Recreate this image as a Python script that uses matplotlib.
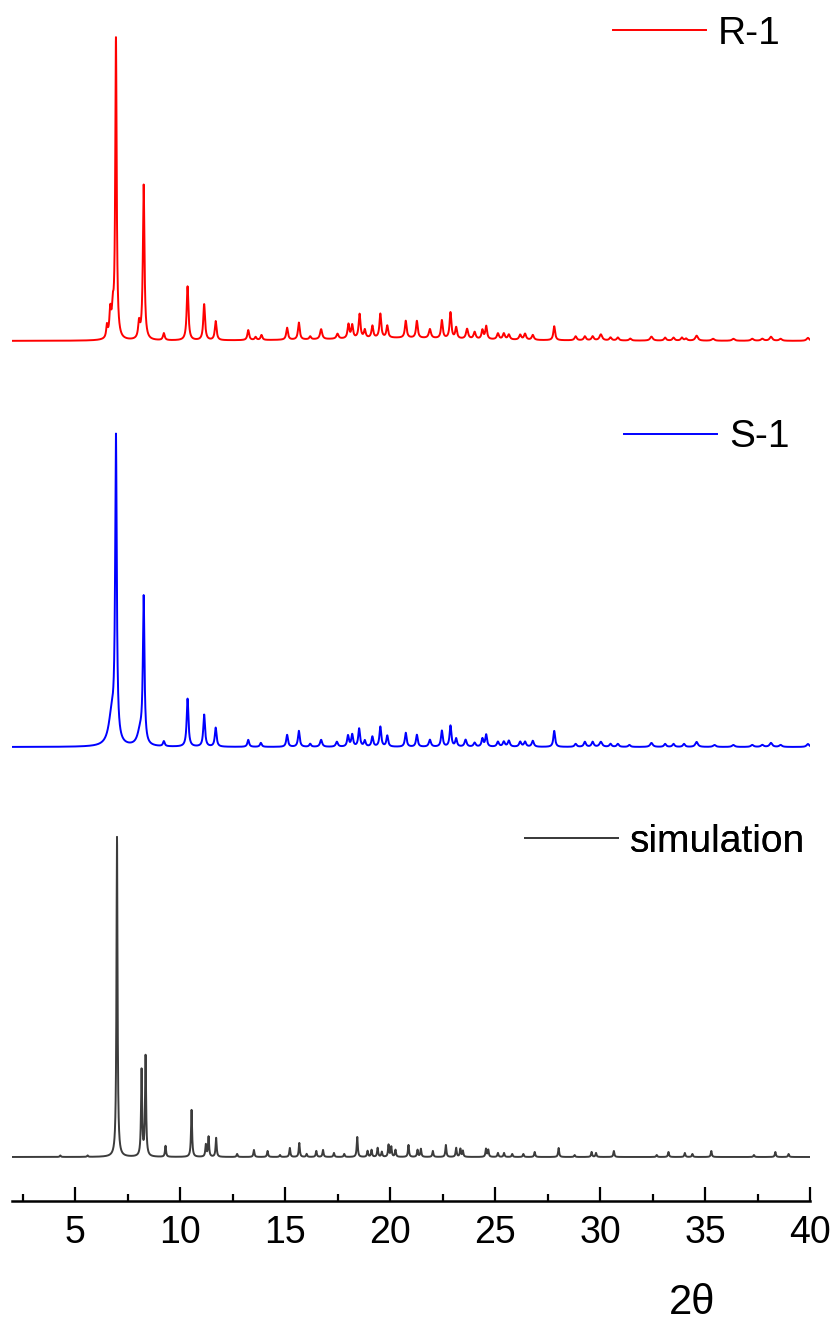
import numpy as np
import matplotlib
matplotlib.use("Agg")
from matplotlib import pyplot as plt

plt.rcParams['font.family'] = ['Liberation Sans', 'DejaVu Sans']

# peak lists: 2theta position, height (arb. units), FWHM
r1_pos = [6.52, 6.68, 6.8, 6.95, 8.05, 8.27, 9.23, 10.36, 11.15, 11.7, 13.25, 13.6, 13.88,
          15.1, 15.66, 16.2, 16.72, 17.5, 18.02, 18.2, 18.55, 18.8, 19.16, 19.54, 19.87,
          20.75, 21.28, 21.9, 22.47, 22.88, 23.15, 23.67, 24.03, 24.4, 24.58, 25.14, 25.42,
          25.66, 26.2, 26.43, 26.8, 27.82, 28.84, 29.28, 29.65, 30.04, 30.5, 30.85, 31.44,
          32.45, 33.1, 33.5, 33.9, 34.1, 34.6, 35.38, 36.35, 37.25, 37.73, 38.14, 38.6, 39.9,
          20.4]
r1_int = [12, 26, 24, 300, 16, 155, 7, 54, 36, 19, 10, 3, 5,
          12, 17, 3, 10, 5, 14, 13, 24, 8, 12, 24, 12,
          17, 17, 9, 18, 26, 11, 10, 7, 9, 13, 6, 6,
          5, 5, 6, 5, 14, 4, 4, 4, 6, 3, 3, 2,
          4, 3, 3, 3, 2, 5, 2, 2, 2, 2, 4, 2, 3,
          3]
r1_fwhm = [0.08, 0.1, 0.1, 0.08, 0.1, 0.09, 0.1, 0.1, 0.1, 0.1, 0.1, 0.1, 0.1,
           0.1, 0.1, 0.1, 0.12, 0.12, 0.1, 0.1, 0.1, 0.1, 0.1, 0.1, 0.1,
           0.1, 0.1, 0.12, 0.1, 0.1, 0.1, 0.12, 0.12, 0.1, 0.1, 0.12, 0.12,
           0.12, 0.12, 0.12, 0.12, 0.1, 0.12, 0.12, 0.12, 0.15, 0.12, 0.12, 0.12,
           0.15, 0.12, 0.12, 0.12, 0.12, 0.15, 0.15, 0.15, 0.15, 0.15, 0.15, 0.15, 0.15,
           8.0]

s1_pos = [6.75, 6.95, 8.1, 8.27, 9.23, 10.36, 11.15, 11.7, 13.25, 13.85, 15.1, 15.66, 16.2,
          16.72, 17.47, 18.0, 18.2, 18.53, 18.8, 19.16, 19.54, 19.87, 20.75, 21.28, 21.9,
          22.47, 22.88, 23.15, 23.6, 24.03, 24.4, 24.58, 25.14, 25.42, 25.66, 26.2, 26.43,
          26.8, 27.82, 28.84, 29.28, 29.65, 30.04, 30.5, 30.85, 31.4, 32.45, 33.1, 33.5,
          34.0, 34.6, 35.45, 36.35, 37.25, 37.73, 38.14, 38.6, 39.9]
s1_int = [30, 300, 14, 145, 5, 48, 32, 19, 7, 4, 12, 16, 3,
          7, 5, 11, 12, 18, 6, 10, 20, 11, 14, 12, 7,
          16, 21, 8, 7, 4, 8, 12, 5, 5, 6, 5, 5,
          6, 16, 3, 5, 5, 5, 3, 3, 2, 4, 3, 3,
          3, 5, 2, 2, 2, 2, 4, 2, 3]
s1_fwhm = [0.35, 0.09, 0.3, 0.09, 0.1, 0.1, 0.1, 0.1, 0.1, 0.1, 0.1, 0.1, 0.1,
           0.12, 0.12, 0.1, 0.1, 0.1, 0.1, 0.1, 0.1, 0.1, 0.1, 0.1, 0.12,
           0.1, 0.1, 0.1, 0.12, 0.12, 0.1, 0.1, 0.12, 0.12, 0.12, 0.12, 0.12,
           0.12, 0.1, 0.12, 0.12, 0.12, 0.15, 0.12, 0.12, 0.12, 0.15, 0.12, 0.12,
           0.12, 0.15, 0.15, 0.15, 0.15, 0.15, 0.15, 0.15, 0.15]

sim_pos = [4.3, 5.6, 7.0, 8.17, 8.36, 9.31, 10.55, 11.23, 11.36, 11.72, 12.72, 13.52, 14.17,
           14.76, 15.23, 15.68, 16.03, 16.49, 16.81, 17.33, 17.82, 18.44, 18.93, 19.12, 19.41,
           19.61, 19.93, 20.06, 20.26, 20.88, 21.31, 21.47, 22.04, 22.66, 23.15, 23.35, 23.47,
           24.57, 24.68, 25.14, 25.43, 25.82, 26.35, 26.89, 28.03, 28.79, 29.6, 29.81, 30.66,
           32.7, 33.26, 34.04, 34.4, 35.3, 37.33, 38.35, 38.98]
sim_int = [1.5, 1.5, 320, 86, 100, 11, 47, 12, 20, 19, 3, 7, 6,
           2, 9, 14, 3, 6, 7, 4, 3, 20, 6, 7, 9,
           5, 12, 10, 7, 12, 7, 8, 6, 12, 9, 8, 6,
           8, 7, 4, 4, 3, 3, 5, 9, 2, 5, 4, 6,
           2, 5, 4, 3, 6, 2, 5, 3]
sim_fwhm = 0.06

labels = ['R-1', 'S-1', 'simulation']
colors = ['#ff0000', '#0000ff', '#3c3c3c']
offsets = [860, 454, 44]

x = np.linspace(2, 40, 7601)


def pattern(pos, inten, fwhm):
    fwhm = np.broadcast_to(np.asarray(fwhm, dtype=float), (len(pos),))
    y = np.zeros_like(x)
    for p, h, w in zip(pos, inten, fwhm):
        y += h / (1 + ((x - p) / (w / 2)) ** 2)
    return y


curves = [pattern(r1_pos, r1_int, r1_fwhm),
          pattern(s1_pos, s1_int, s1_fwhm),
          pattern(sim_pos, sim_int, sim_fwhm)]

fig = plt.figure(figsize=(8.32, 13.24), dpi=100)
ax = fig.add_axes([12 / 832, 123 / 1324, 798 / 832, 1201 / 1324])

legend_anchor = [(0.963, 0.972), (0.974, 0.636), (0.994, 0.299)]
for y, lab, col, off, anc in zip(curves, labels, colors, offsets, legend_anchor):
    line, = ax.plot(x, y + off, color=col, lw=1.4, label=lab)
    leg = ax.legend(handles=[line], loc='center right', bbox_to_anchor=anc,
                    frameon=False, fontsize=28, handlelength=2.4, handletextpad=0.3,
                    borderpad=0, borderaxespad=0)
    ax.add_artist(leg)

ax.set_xlim(2, 40)
ax.set_ylim(0, 1201)
ax.set_xticks(np.arange(5, 41, 5))
ax.set_xticks(np.arange(2.5, 40.1, 2.5), minor=True)
ax.tick_params(axis='x', which='major', direction='in', length=10, width=1.6,
               labelsize=27, pad=10)
ax.tick_params(axis='x', which='minor', direction='in', length=5, width=1.6)
ax.set_yticks([])
for s in ['left', 'right', 'top']:
    ax.spines[s].set_visible(False)
ax.spines['bottom'].set_linewidth(1.8)

ax.text(0.852, -0.085, '2θ', transform=ax.transAxes, ha='center', va='center', fontsize=30)

fig.savefig('out.png', dpi=100)
